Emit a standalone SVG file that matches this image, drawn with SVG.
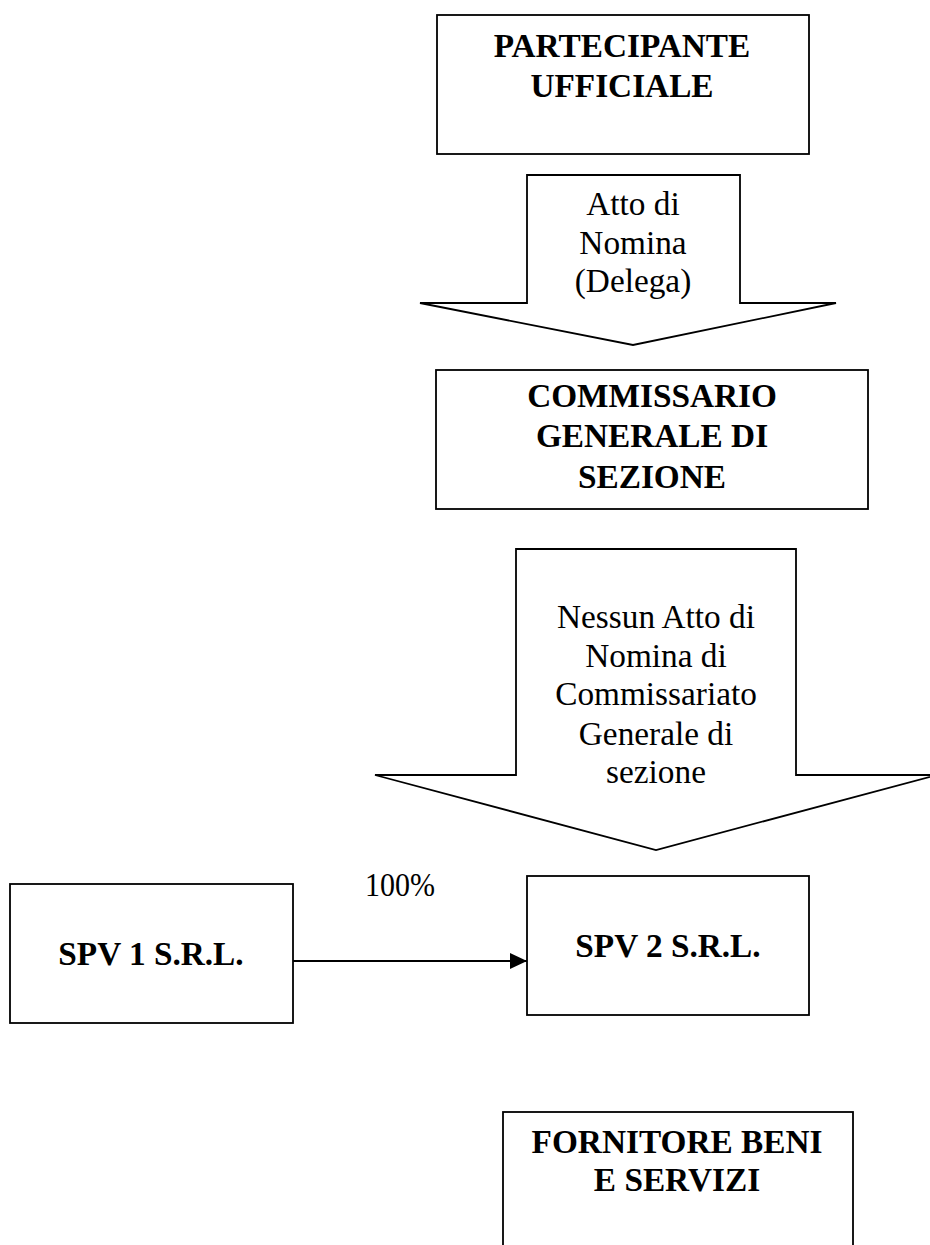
<svg xmlns="http://www.w3.org/2000/svg" width="930" height="1245" viewBox="0 0 930 1245">
  <style>
    .box { fill: #ffffff; stroke: #000000; stroke-width: 1.8; }
    .block { fill: #ffffff; stroke: #000000; stroke-width: 1.8; stroke-linejoin: miter; }
    .title { font-family: "Liberation Serif", "Times New Roman", serif; font-size: 33.3px; font-weight: bold; fill: #000000; text-anchor: middle; }
    .label { font-family: "Liberation Serif", "Times New Roman", serif; font-size: 33.3px; fill: #000000; text-anchor: middle; }
    .link { stroke: #000000; stroke-width: 1.8; fill: none; }
  </style>
  <defs>
    <marker id="head" viewBox="0 0 17 16" refX="17" refY="8" markerWidth="17" markerHeight="16" markerUnits="userSpaceOnUse" orient="auto">
      <path d="M0,0 L17,8 L0,16 Z" fill="#000000"/>
    </marker>
  </defs>
  <rect width="930" height="1245" fill="#ffffff"/>

  <g id="partecipante-ufficiale">
    <rect class="box" x="437" y="15" width="372" height="139"/>
    <text class="title" x="622" y="57">PARTECIPANTE</text>
    <text class="title" x="622" y="97">UFFICIALE</text>
  </g>

  <g id="atto-di-nomina">
    <path class="block" d="M527,175 L740,175 L740,303 L836,303 L633,345 L420,303 L527,303 Z"/>
    <text class="label" x="633" y="215">Atto di</text>
    <text class="label" x="633" y="254">Nomina</text>
    <text class="label" x="633" y="292">(Delega)</text>
  </g>

  <g id="commissario-generale">
    <rect class="box" x="436" y="370" width="432" height="139"/>
    <text class="title" x="652" y="407">COMMISSARIO</text>
    <text class="title" x="652" y="447">GENERALE DI</text>
    <text class="title" x="652" y="488">SEZIONE</text>
  </g>

  <g id="nessun-atto">
    <path class="block" d="M516,549 L796,549 L796,775 L937,775 L656,850 L375,775 L516,775 Z"/>
    <text class="label" x="656" y="628">Nessun Atto di</text>
    <text class="label" x="656" y="667">Nomina di</text>
    <text class="label" x="656" y="705">Commissariato</text>
    <text class="label" x="656" y="745">Generale di</text>
    <text class="label" x="656" y="783">sezione</text>
  </g>

  <g id="spv1">
    <rect class="box" x="10" y="884" width="283" height="139"/>
    <text class="title" x="151" y="965">SPV 1 S.R.L.</text>
  </g>

  <g id="spv2">
    <rect class="box" x="527" y="876" width="282" height="139"/>
    <text class="title" x="668" y="957">SPV 2 S.R.L.</text>
  </g>

  <g id="fornitore">
    <rect class="box" x="503" y="1112" width="350" height="140"/>
    <text class="title" x="677" y="1153">FORNITORE BENI</text>
    <text class="title" x="677" y="1191">E SERVIZI</text>
  </g>

  <g id="connectors">
    <line class="link" x1="293" y1="961" x2="527" y2="961" marker-end="url(#head)"/>
    <text class="label" x="400" y="896" font-size="31" textLength="70" lengthAdjust="spacingAndGlyphs">100%</text>
  </g>
</svg>
